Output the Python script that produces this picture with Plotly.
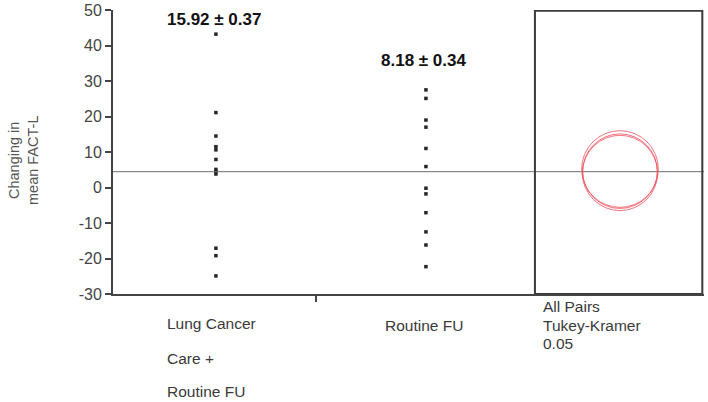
import plotly.graph_objects as go

# values
lung_care = [43.2, 21.1, 14.5, 11.5, 10.6, 7.9, 5.1, 4.5, 3.8, -17.1, -19.2, -24.9]
routine_fu = [27.5, 25.1, 19.0, 17.0, 11.0, 5.9, -0.2, -1.8, -7.1, -12.5, -16.2, -22.3]
group_labels = ["15.92 ± 0.37", "8.18 ± 0.34"]
grand_mean = 4.45
circle_means = [5.2, 4.6, 4.1]
circle_radii = [10.8, 10.5, 10.6]
y_ticks = [50, 40, 30, 20, 10, 0, -10, -20, -30]
y_ticktext = ["50", "40", "30", "20", "10", "0", "-10", "-20", "-30"]

FONT = "Liberation Sans, Arial, sans-serif"
W, H = 708, 402
L, R, T, B = 113, 4, 10, 108
X_RANGE = [0.51, 3.324]
Y_RANGE = [-30, 50]
GROUP_X = [1, 2]
BOUNDARY = 1.476
BOX_LEFT = 2.519
BOX_RIGHT = 3.316
CIRCLE_X = 2.924

px_x = (W - L - R) / (X_RANGE[1] - X_RANGE[0])
px_y = (H - T - B) / (Y_RANGE[1] - Y_RANGE[0])


def px(xp, yp):
    # pixel position -> paper coordinates
    return (xp - L) / (W - L - R), 1 - (yp - T) / (H - T - B)


fig = go.Figure()
for gx, vals in zip(GROUP_X, [lung_care, routine_fu]):
    fig.add_trace(go.Scatter(
        x=[gx] * len(vals), y=vals, mode="markers",
        marker=dict(color="#262626", size=3.5, symbol="square"),
        showlegend=False, hoverinfo="y"))

# grand mean line
fig.add_shape(type="line", xref="x domain", yref="y", x0=0, x1=1,
              y0=grand_mean, y1=grand_mean, line=dict(color="#6e6e6e", width=1))

# comparison circles box
fig.add_shape(type="rect", xref="x", yref="y", x0=BOX_LEFT, x1=BOX_RIGHT,
              y0=Y_RANGE[0], y1=Y_RANGE[1] - 0.2, line=dict(color="#3a3a3a", width=2))

for m, r in zip(circle_means, circle_radii):
    rx = r * px_y / px_x
    fig.add_shape(type="circle", xref="x", yref="y",
                  x0=CIRCLE_X - rx, x1=CIRCLE_X + rx, y0=m - r, y1=m + r,
                  line=dict(color="rgba(236,80,95,0.8)", width=1))

# mean ± se labels
for gx, txt, yy in zip(GROUP_X, group_labels, [47.2, 35.9]):
    fig.add_annotation(x=gx - 0.01, y=yy, xref="x", yref="y", text="<b>%s</b>" % txt,
                       showarrow=False, font=dict(family=FONT, size=17, color="#111"))

# category labels under the axis
cat_font = dict(family=FONT, size=15.5, color="#3a3a3a")
for txt, xp, yp in [("Lung Cancer", 165, 323), ("Care +", 165, 358), ("Routine FU", 165, 391),
                    ("Routine FU", 383, 325),
                    ("All Pairs", 541, 306), ("Tukey-Kramer", 541, 325), ("0.05", 541, 343)]:
    ax, ay = px(xp, yp)
    fig.add_annotation(x=ax, y=ay, xref="paper", yref="paper", xanchor="left", yanchor="middle",
                       text=txt, showarrow=False, font=cat_font)

# y title
ax, ay = px(23, 160)
fig.add_annotation(x=ax, y=ay, xref="paper", yref="paper", xanchor="center", yanchor="middle",
                   text="Changing in<br>mean FACT-L", textangle=-90, showarrow=False,
                   font=dict(family=FONT, size=14.5, color="#555"))

fig.update_layout(
    width=W, height=H, margin=dict(l=L, r=R, t=T, b=B),
    plot_bgcolor="white", paper_bgcolor="white",
    xaxis=dict(range=X_RANGE, showgrid=False, zeroline=False, showline=True, automargin=False,
               linecolor="#444", linewidth=2, tickvals=[BOUNDARY], ticktext=[""],
               ticks="outside", ticklen=6, tickcolor="#444", tickwidth=2),
    yaxis=dict(range=Y_RANGE, tickvals=y_ticks, ticktext=y_ticktext, showgrid=False,
               zeroline=False, showline=True, automargin=False,
               linecolor="#444", linewidth=2, ticks="outside", ticklen=6,
               tickcolor="#444", tickwidth=1.5,
               tickfont=dict(family=FONT, size=16, color="#444")),
)

# page body has a default 8px margin; drop it so the figure fills the window
fig.write_html("out.html", config={"displayModeBar": False},
               post_script="document.body.style.margin = '0';")
